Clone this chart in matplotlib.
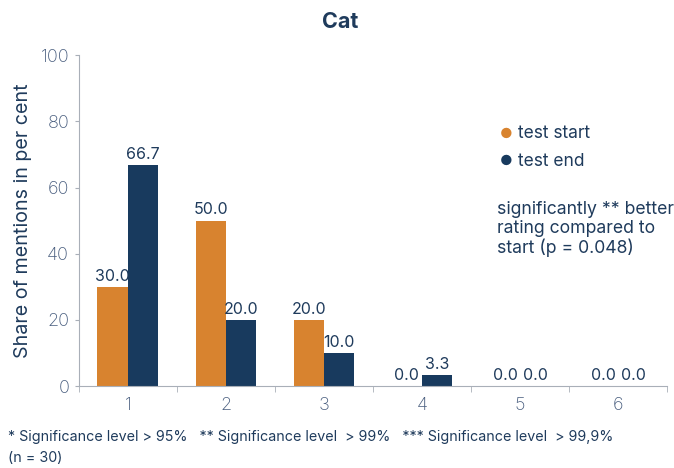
import matplotlib.pyplot as plt
import numpy as np

categories = ["1", "2", "3", "4", "5", "6"]
test_start = [30.0, 50.0, 20.0, 0.0, 0.0, 0.0]
test_end = [66.7, 20.0, 10.0, 3.3, 0.0, 0.0]

orange = "#D8832F"
navy = "#183A5E"
text_col = "#1F3B5C"
tick_col = "#485D7E"
spine_col = "#A9AFB8"

plt.rcParams["font.family"] = ["Inter", "DejaVu Sans"]

fig = plt.figure(figsize=(6.74, 4.68), dpi=100)
ax = fig.add_axes([0.117, 0.175, 0.873, 0.707])

x = np.arange(1, len(categories) + 1)
w = 0.31
b1 = ax.bar(x - w / 2, test_start, w, color=orange, label="test start")
b2 = ax.bar(x + w / 2, test_end, w, color=navy, label="test end")

for bars in (b1, b2):
    for rect in bars:
        h = rect.get_height()
        ax.text(rect.get_x() + rect.get_width() / 2, h + 1.0, f"{h:.1f}",
                ha="center", va="bottom", fontsize=11.5, color=text_col)

ax.set_xlim(0.5, 6.5)
ax.set_ylim(0, 100)
ax.set_yticks([0, 20, 40, 60, 80, 100])
ax.set_xticks(x)
ax.set_xticklabels(categories)
ax.set_xticks(np.arange(0.5, 6.6, 1), minor=True)
ax.tick_params(axis="x", which="major", length=0, pad=8, labelsize=13, labelcolor=tick_col)
ax.tick_params(axis="x", which="minor", length=4, color=spine_col)
ax.tick_params(axis="y", length=3, color=spine_col, labelsize=13, labelcolor=tick_col, pad=4)
for lab in ax.get_xticklabels() + ax.get_yticklabels():
    lab.set_fontweight("light")

for s in ("top", "right"):
    ax.spines[s].set_visible(False)
for s in ("left", "bottom"):
    ax.spines[s].set_color(spine_col)

ax.set_ylabel("Share of mentions in per cent", fontsize=14.2, color=text_col, labelpad=6)

fig.text(0.505, 0.953, "Cat", ha="center", va="center", fontsize=15.5,
         fontweight="bold", color=text_col)

# legend as dots + text
for i, (lbl, col) in enumerate([("test start", orange), ("test end", navy)]):
    yy = 1 - (134 + 27 * i) / 468
    fig.text(0.751, yy, "\u25CF", ha="center", va="center", fontsize=10, color=col)
    fig.text(0.768, yy, lbl, ha="left", va="center", fontsize=12.5, color=text_col)

fig.text(0.738, 1 - 229 / 468, "significantly ** better\nrating compared to\nstart (p = 0.048)",
         ha="left", va="center", fontsize=12.7, color=text_col, linespacing=1.12)

fig.text(0.012, 1 - 437 / 468,
         "* Significance level > 95%   ** Significance level  > 99%   *** Significance level  > 99,9%",
         ha="left", va="center", fontsize=10.3, color=text_col)
fig.text(0.012, 1 - 458 / 468, "(n = 30)", ha="left", va="center", fontsize=10.3, color=text_col)

fig.savefig("out.png", dpi=100)
